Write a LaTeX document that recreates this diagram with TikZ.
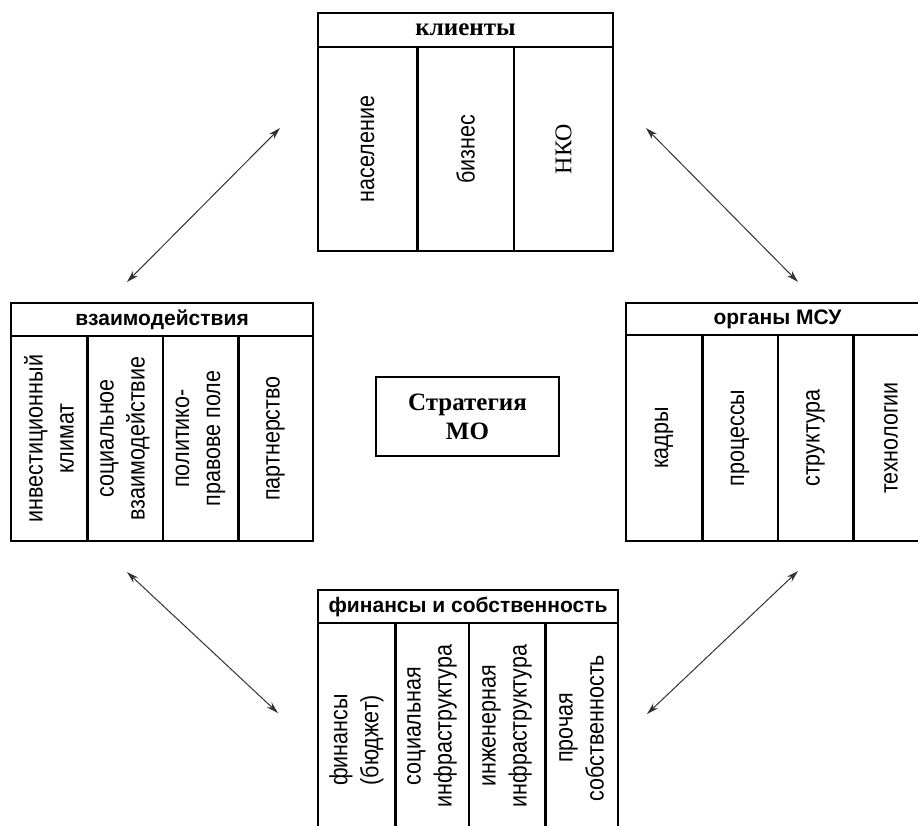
\documentclass[tikz,border=0pt]{standalone}
\usepackage{fontspec}
\setmainfont{Liberation Serif}
\setsansfont{Liberation Sans}
\newfontfamily\narrowsans{Liberation Sans}[FakeStretch=0.86]
\usetikzlibrary{arrows.meta}
\tikzset{
	outer/.style={line width=2.6pt},
	septhin/.style={line width=1.3pt},
	septhick/.style={line width=3pt},
	headsans/.style={font=\fontsize{21}{25}\selectfont\sffamily\bfseries},
	headserif/.style={font=\fontsize{25}{29}\selectfont\bfseries},
	coltext/.style={rotate=90, align=center, font=\fontsize{25}{31}\selectfont\narrowsans},
	link/.style={line width=1pt, black!80, {Stealth[length=12pt,width=7pt]}-{Stealth[length=12pt,width=7pt]}}
}

\begin{document}
\begin{tikzpicture}[x=1pt,y=-1pt]
	\useasboundingbox (0,0) rectangle (918,825);

% centre
	\node[draw, line width=1.4pt, minimum width=183pt, minimum height=79pt, align=center, font=\fontsize{25}{29}\selectfont\bfseries] (strat) at (467.5,416.5) {Стратегия\\МО};

% top box

	%frame + header + columns
	\draw[outer] (318,13) rectangle (613,251);
	\draw[septhin] (318,47) -- (613,47);
	\draw[septhick] (417,47) -- (417,251);
	\draw[septhin] (514,47) -- (514,251);
	
	\node[headserif] (klienty) at (465.5,30) {клиенты};
	\node[coltext] (naselenie) at (367.5,149) {население};
	\node[coltext] (biznes) at (465.5,149) {бизнес};
	\node[coltext, font=\fontsize{24}{28}\selectfont\rmfamily] (nko) at (563.5,149) {НКО};

% left box

	\draw[outer] (11,303) rectangle (313,541);
	\draw[septhin] (11,336) -- (313,336);
	\draw[septhick] (87,336) -- (87,541);
	\draw[septhin] (163,336) -- (163,541);
	\draw[septhick] (238,336) -- (238,541);
	
	\node[headsans] (vzaim) at (162,319.5) {взаимодействия};
	\node[coltext] (invest) at (49,438.5) {инвестиционный\\климат};
	\node[coltext] (socvz) at (125,438.5) {социальное\\взаимодействие};
	\node[coltext] (polit) at (200.5,438.5) {политико-\\правове поле};
	\node[coltext] (partn) at (275.5,438.5) {партнерство};

% right box (cut at the page edge)

	\draw[outer] (626,303) rectangle (929,541);
	\draw[septhin] (626,335) -- (929,335);
	\draw[septhick] (702,335) -- (702,541);
	\draw[septhin] (778,335) -- (778,541);
	\draw[septhick] (853,335) -- (853,541);
	
	\node[headsans] (organy) at (777.5,319) {органы МСУ};
	\node[coltext] (kadry) at (664,438) {кадры};
	\node[coltext] (proc) at (740,438) {процессы};
	\node[coltext] (strukt) at (815.5,438) {структура};
	\node[coltext] (tehn) at (891,438) {технологии};

% bottom box (cut at the page edge)

	\draw[outer] (318,590) rectangle (618,840);
	\draw[septhin] (318,623) -- (618,623);
	\draw[septhick] (395,623) -- (395,840);
	\draw[septhin] (469,623) -- (469,840);
	\draw[septhick] (545,623) -- (545,840);
	
	\node[headsans] (finans) at (468,606.5) {финансы и собственность};
	\node[coltext] (budget) at (356.5,740) {финансы\\(бюджет)};
	\node[coltext] (socinf) at (432,726) {социальная\\инфраструктура};
	\node[coltext] (inginf) at (507,726) {инженерная\\инфраструктура};
	\node[coltext] (proch) at (581.5,728) {прочая\\собственность};

% links
	\coordinate (tl1) at (127,282);
	\coordinate (tl2) at (280,128);
	\coordinate (tr1) at (646,128);
	\coordinate (tr2) at (798,282);
	\coordinate (bl1) at (127,572);
	\coordinate (bl2) at (278,713);
	\coordinate (br1) at (798,571);
	\coordinate (br2) at (647,714);
	
	\draw[link] (tl1) -- (tl2);
	\draw[link] (tr1) -- (tr2);
	\draw[link] (bl1) -- (bl2);
	\draw[link] (br1) -- (br2);

\end{tikzpicture}
\end{document}
